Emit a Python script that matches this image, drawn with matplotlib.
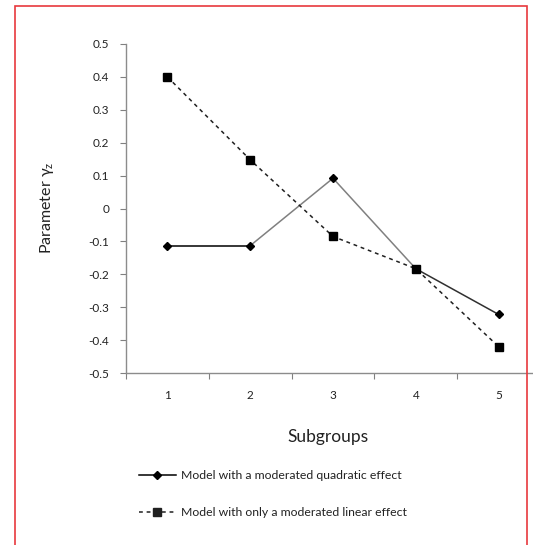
import matplotlib.pyplot as plt
from matplotlib.lines import Line2D
from matplotlib.patches import Rectangle

plt.rcParams['font.family'] = ['Lato', 'DejaVu Sans']

# data
subgroups = [1, 2, 3, 4, 5]
quadratic = [-0.113, -0.113, 0.092, -0.183, -0.322]
linear = [0.400, 0.148, -0.085, -0.183, -0.420]
seg_colors = ['#000000', '#808080', '#808080', '#303030']   # segment shades of the solid line
yticks = [0.5, 0.4, 0.3, 0.2, 0.1, 0, -0.1, -0.2, -0.3, -0.4, -0.5]
ytick_labels = ['0.5', '0.4', '0.3', '0.2', '0.1', '0', '-0.1', '-0.2', '-0.3', '-0.4', '-0.5']
lab_quad = 'Model with a moderated quadratic effect'
lab_lin = 'Model with only a moderated linear effect'

W, H = 533, 545
fig = plt.figure(figsize=(W/100, H/100), dpi=100)
ax = fig.add_axes([126/W, 172/H, (540-126)/W, 329/H])

# solid line, segment by segment
for i in range(len(subgroups)-1):
    ax.plot(subgroups[i:i+2], quadratic[i:i+2], color=seg_colors[i], lw=1.1, zorder=2)
ax.plot(subgroups, quadratic, ls='none', marker='D', ms=4.5, color='black', zorder=3)

ax.plot(subgroups, linear, ls=(0, (2.5, 2.5)), color='#202020', lw=1.1,
        marker='s', ms=6, mfc='black', mec='black', zorder=3)

ax.set_xlim(0.5, 5.5)
ax.set_ylim(-0.5, 0.5)
ax.set_xticks([x + 0.5 for x in [0] + subgroups])
ax.set_xticks(subgroups, minor=True)
ax.set_xticklabels([])
ax.set_xticklabels([str(s) for s in subgroups], minor=True)
ax.tick_params(axis='x', which='major', length=4, color='#808080', direction='out')
ax.tick_params(axis='x', which='minor', length=0, pad=12, labelsize=8.5, labelcolor='#222222')
ax.set_yticks(yticks)
ax.set_yticklabels(ytick_labels)
ax.tick_params(axis='y', length=4, color='#808080', labelsize=8.5, labelcolor='#222222', pad=8)

for s in ['top', 'right']:
    ax.spines[s].set_visible(False)
for s in ['left', 'bottom']:
    ax.spines[s].set_color('#8c8c8c')
    ax.spines[s].set_linewidth(1)

fig.text(47/W, 1 - 208/H, r'Parameter $\mathregular{\gamma_z}$', rotation=90, ha='center', va='center',
         fontsize=11.5, color='#222222')
fig.text(328/W, 1 - 437/H, 'Subgroups', ha='center', va='center', fontsize=12.5, color='#222222')

h1 = Line2D([], [], color='black', lw=1.1, marker='D', ms=4)
h2 = Line2D([], [], color='#202020', lw=1.1, ls=(0, (2.5, 2.5)), marker='s', ms=6)
fig.legend([h1, h2], [lab_quad, lab_lin], loc='upper left',
           bbox_to_anchor=(128/W, 1 - 459/H), frameon=False, fontsize=8.8,
           handlelength=3.0, handletextpad=0.4, labelspacing=2.15, labelcolor='#222222')

fig.patches.append(Rectangle((15/W, -0.05), (527-15)/W, (539/H) + 0.05,
                             transform=fig.transFigure, fill=False,
                             edgecolor='#e8383d', lw=1.2))

fig.savefig('out.png', dpi=100)
